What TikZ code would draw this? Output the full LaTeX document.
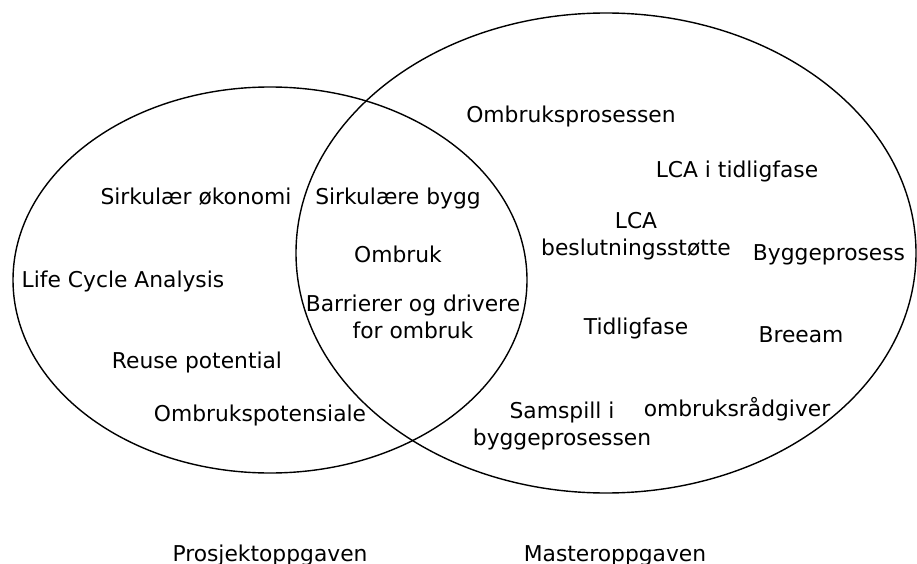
\documentclass[tikz,border=0pt]{standalone}
\usepackage{fontspec}
\setmainfont{DejaVu Sans}
\begin{document}
\begin{tikzpicture}[x=1pt,y=-1pt,
  set/.style={draw=black,line width=1.4pt},
  term/.style={inner sep=0pt,align=center,font=\fontsize{21.8}{27.5}\selectfont,
    text height=15.5pt,text depth=4pt}]
\useasboundingbox (0,0) rectangle (917,564);

% the two overlapping sets
\draw[set] (270,280) ellipse [x radius=257pt, y radius=193pt];
\draw[set] (606,253) ellipse [x radius=310pt, y radius=240pt];

% left set only
\node[term] (sirkok)  at (196,199) {Sirkulær økonomi};
\node[term] (lca)     at (123,282) {Life Cycle Analysis};
\node[term] (reuse)   at (197,363) {Reuse potential};
\node[term] (potens)  at (260,416) {Ombrukspotensiale};

% shared terms
\node[term] (sirkbyg) at (398,199) {Sirkulære bygg};
\node[term] (ombruk)  at (398,257) {Ombruk};
\node[term] (barr)    at (413,333) {Barrierer og drivere\\for ombruk};

% right set only
\node[term] (prosess) at (571,117) {Ombruksprosessen};
\node[term] (lcatid)  at (737,172) {LCA i tidligfase};
\node[term] (lcabes)  at (636,250) {LCA\\beslutningsstøtte};
\node[term] (bygg)    at (829,255) {Byggeprosess};
\node[term] (tidlig)  at (636,329) {Tidligfase};
\node[term] (breeam)  at (801,337) {Breeam};
\node[term] (samspil) at (562,440) {Samspill i\\byggeprosessen};
\node[term] (radgiv)  at (737,411) {ombruksrådgiver};

% set captions
\node[term] (prosj)   at (270,556) {Prosjektoppgaven};
\node[term] (master)  at (615,556) {Masteroppgaven};
\end{tikzpicture}
\end{document}
